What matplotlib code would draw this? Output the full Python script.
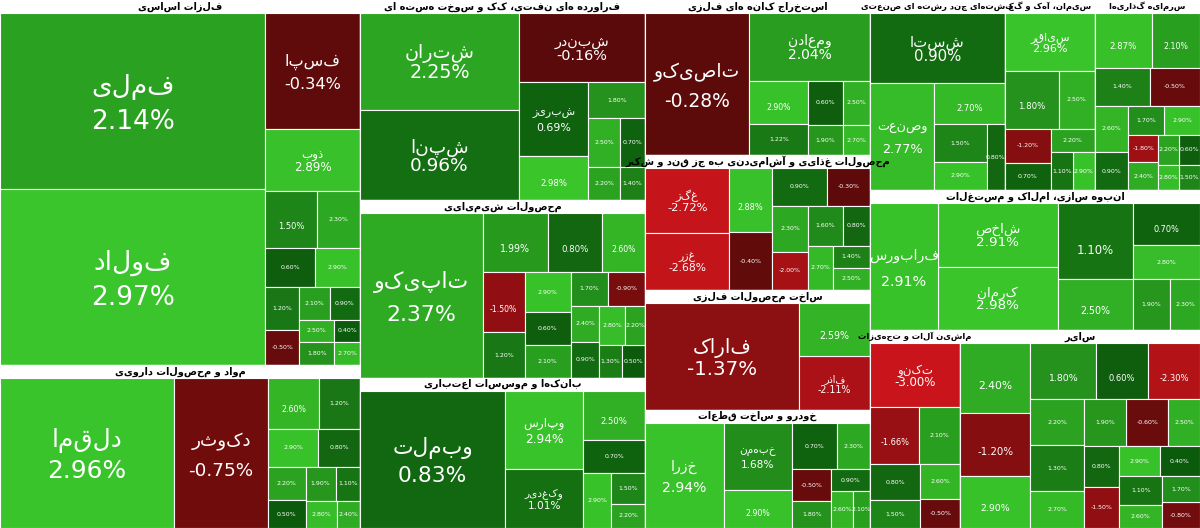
import numpy as np
import matplotlib.pyplot as plt
from matplotlib.patches import Rectangle
import matplotlib.colors as mcolors

plt.rcParams['font.family'] = ['DejaVu Sans']

# sector names, total size (market value units) and the stocks inside each
sector_names = [
    "فلزات اساسی", "مواد و محصولات دارویی",
    "فراورده های نفتی، کک و سوخت هسته ای", "محصولات شیمیایی", "بانکها و موسسات اعتباری",
    "استخراج کانه های فلزی", "محصولات غذایی و آشامیدنی به جز قند و شکر",
    "ساخت محصولات فلزی", "خودرو و ساخت قطعات",
    "کشتهای چند رشته ای صنعتی", "سیمان، آهک و گچ", "سرمایه گذاریها",
    "انبوه سازی، املاک و مستغلات",
    "ماشین آلات و تجهیزات", "سایر",
]
sector_size = [1314, 587, 570, 507, 428, 349, 304, 270, 266, 256, 171, 200, 462, 178, 475]

stock_names = [
    ["فملی", "فولاد", "فسپا", "ذوب"],
    ["دلقما", "دکوثر"],
    ["شتران", "شپنا", "شبندر", "شبریز"],
    ["تاپیکو"],
    ["وبملت", "وپارس", "وکغدیر"],
    ["تاصیکو", "ومعادن"],
    ["غگز", "غزر"],
    ["فاراک", "فاذر"],
    ["خزرا", "خبهمن"],
    ["شستا", "وصنعت"],
    ["سیاقر"],
    [],
    ["شاخص", "کرمان", "فرابورس"],
    ["تکنو"],
    [],
]
stock_weights = [
    [477, 477, 112, 60, 30, 25, 20, 18, 15, 12, 10, 10, 8, 8, 6, 6],
    [250, 135, 25, 20, 18, 15, 12, 10, 10, 8, 8, 6],
    [150, 140, 85, 50, 30, 20, 15, 12, 10, 8],
    [160, 30, 25, 20, 20, 15, 15, 12, 12, 10, 10, 8, 8, 8, 6, 6, 6],
    [195, 60, 45, 30, 20, 15, 10, 8],
    [145, 80, 25, 18, 15, 12, 10, 8],
    [40, 35, 20, 18, 15, 12, 12, 10, 10, 8, 8, 6, 6],
    [165, 38, 38],
    [80, 45, 25, 20, 15, 12, 10, 8, 8, 6],
    [95, 70, 30, 20, 15, 12],
    [50, 30, 20, 15, 12, 10, 8, 8],
    [30, 25, 20, 18, 15, 12, 10, 10, 8, 8, 6, 6, 5, 5],
    [40, 40, 45, 30, 20, 15, 12, 10, 8],
    [25, 12, 10, 8, 6, 6, 5],
    [20, 18, 15, 15, 12, 12, 10, 10, 8, 8, 8, 6, 6, 6, 5, 5, 5, 4, 4, 4],
]
stock_changes = [
    [2.14, 2.97, -0.34, 2.89, 1.5, 2.3, 0.6, 2.9, 1.2, -0.5, 2.1, 0.9, 2.5, 1.8, 0.4, 2.7],
    [2.96, -0.75, 2.6, 1.2, 2.9, 0.8, 2.2, 1.9, 0.5, 2.8, 1.1, 2.4],
    [2.25, 0.96, -0.16, 0.69, 2.98, 1.8, 2.5, 0.7, 2.2, 1.4],
    [2.37, 1.99, 0.8, 2.6, -1.5, 1.2, 2.9, 0.6, 2.1, 1.7, -0.9, 2.4, 0.9, 2.8, 1.3, 0.5, 2.2],
    [0.83, 2.94, 1.01, 2.5, 0.7, 2.9, 1.5, 2.2],
    [-0.28, 2.04, 2.9, 1.22, 0.6, 2.5, 1.9, 2.7],
    [-2.72, -2.68, 2.88, -0.4, 0.9, -0.3, 2.3, 1.6, -2.0, 2.7, 0.8, 1.4, 2.5],
    [-1.37, -2.11, 2.59],
    [2.94, 1.68, 2.9, 0.7, 2.3, -0.5, 1.8, 2.6, 0.9, 2.1],
    [0.9, 2.77, 2.7, 1.5, 2.9, 0.8],
    [2.96, 1.8, 2.5, -1.2, 0.7, 2.2, 2.9, 1.1],
    [2.87, 2.1, 1.4, -0.5, 2.6, 0.9, 2.9, 1.7, -1.8, 2.4, 0.6, 2.2, 1.5, 2.8],
    [2.91, 2.98, 2.91, 1.1, 2.5, 0.7, 2.8, 1.9, 2.3],
    [-3.0, -1.66, 2.1, 0.8, 2.6, 1.5, -0.5],
    [2.4, -1.2, 1.8, 2.9, 0.6, -2.3, 2.2, 1.3, 2.7, -0.6, 1.9, 0.8, 2.5, -1.5, 2.9, 1.1, 0.4, 2.6, -0.8, 1.7],
]

# arrangement: columns -> rows -> sector indices
arrangement = [
    [[0], [1]],
    [[2], [3], [4]],
    [[5], [6], [7], [8]],
    [[9, 10, 11], [12], [13, 14]],
]

W, H = 1200, 528
HEAD = 13


def color_for(v):
    if v >= 0:
        t = min(max((v - 0.5) / 2.5, 0), 1)
        return mcolors.to_hex(np.array(mcolors.to_rgb("#0c5a0c")) * (1 - t) + np.array(mcolors.to_rgb("#3ac62b")) * t)
    t = min(max((-v - 0.2) / 2.6, 0), 1)
    return mcolors.to_hex(np.array(mcolors.to_rgb("#5a0a0a")) * (1 - t) + np.array(mcolors.to_rgb("#c8141a")) * t)


def fa(s):
    return s[::-1]


def worst(row, side):
    s = sum(row)
    return max(max(side * side * r / (s * s), s * s / (side * side * r)) for r in row)


def squarify(vals, x, y, w, h):
    order = np.argsort(vals)[::-1]
    areas = np.array(vals, float)[order]
    areas = areas * w * h / areas.sum()
    rects = [None] * len(vals)
    i = 0
    while i < len(areas):
        side = min(w, h)
        row = [areas[i]]
        j = i + 1
        while j < len(areas) and worst(row + [areas[j]], side) <= worst(row, side):
            row.append(areas[j])
            j += 1
        s = sum(row)
        if w >= h:
            cw = s / h
            yy = y
            for k, a in enumerate(row):
                rects[order[i + k]] = (x, yy, cw, a / cw)
                yy += a / cw
            x += cw
            w -= cw
        else:
            rh = s / w
            xx = x
            for k, a in enumerate(row):
                rects[order[i + k]] = (xx, y, a / rh, rh)
                xx += a / rh
            y += rh
            h -= rh
        i = j
    return rects


fig = plt.figure(figsize=(12, 5.28), dpi=100)
ax = fig.add_axes([0, 0, 1, 1])
ax.set_xlim(0, W)
ax.set_ylim(H, 0)
ax.axis('off')
fig.patch.set_facecolor('white')

total = sum(sector_size)
x0 = 0
for col in arrangement:
    col_total = sum(sector_size[s] for row in col for s in row)
    cw = W * col_total / total
    y0 = 0
    for row in col:
        row_total = sum(sector_size[s] for s in row)
        rh = H * row_total / col_total
        xx = x0
        for s in row:
            sw = cw * sector_size[s] / row_total
            ax.add_patch(Rectangle((xx, y0), sw, rh, facecolor='white', edgecolor='white', lw=1))
            fs = 7 if sw > 200 else 6
            ax.text(xx + sw / 2, y0 + HEAD / 2, fa(sector_names[s]), ha='center', va='center',
                    fontsize=fs, fontweight='bold', color='black', clip_on=True)
            rects = squarify(stock_weights[s], xx, y0 + HEAD, sw, rh - HEAD)
            for k, (rx, ry, rw, rhh) in enumerate(rects):
                v = stock_changes[s][k]
                ax.add_patch(Rectangle((rx, ry), rw, rhh, facecolor=color_for(v), edgecolor='white', lw=0.8))
                name = stock_names[s][k] if k < len(stock_names[s]) else ""
                area = rw * rhh
                if area > 2500:
                    size = min(np.sqrt(area) / 9, 19)
                    ax.text(rx + rw / 2, ry + rhh * 0.42, fa(name), ha='center', va='center',
                            fontsize=size, color='white')
                    ax.text(rx + rw / 2, ry + rhh * 0.62, f"{v:.2f}%", ha='center', va='center',
                            fontsize=size, color='white')
                elif area > 350 and min(rw, rhh) > 14:
                    ax.text(rx + rw / 2, ry + rhh / 2, f"{v:.2f}%", ha='center', va='center',
                            fontsize=4.5, color='white')
            xx += sw
        y0 += rh
    x0 += cw

fig.savefig("out.png", dpi=100)
